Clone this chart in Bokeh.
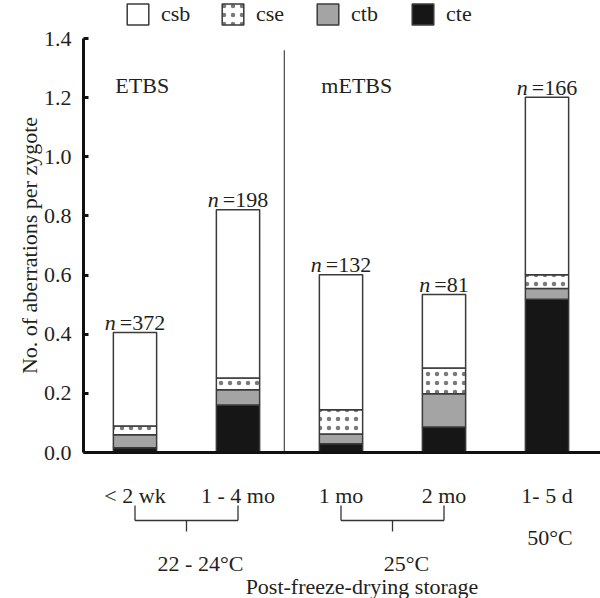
import math
from bokeh.plotting import figure
from bokeh.models import (ColumnDataSource, FixedTicker, Legend, LegendItem, Range1d,
                          PrintfTickFormatter)
from bokeh.core.properties import value
from bokeh.embed import file_html
from bokeh.resources import INLINE

# ---------------- data ----------------
categories = ["< 2 wk", "1 - 4 mo", "1 mo", "2 mo", "1- 5 d"]
n_counts = [372, 198, 132, 81, 166]
cte = [0.016, 0.161, 0.030, 0.086, 0.518]
ctb = [0.044, 0.051, 0.033, 0.113, 0.037]
cse = [0.030, 0.040, 0.082, 0.087, 0.046]
csb = [0.316, 0.569, 0.456, 0.248, 0.600]
stack_order = ["cte", "ctb", "cse", "csb"]      # bottom -> top
legend_order = ["csb", "cse", "ctb", "cte"]
y_ticks = [0.0, 0.2, 0.4, 0.6, 0.8, 1.0, 1.2, 1.4]
media_labels = ["ETBS", "mETBS"]
media_first_bar = [0, 2]
temp_labels = ["22 - 24°C", "25°C"]
temp_pairs = [(0, 1), (2, 3)]
single_temp_label = "50°C"
single_temp_bar = 4
x_title = "Post-freeze-drying storage"
y_title = "No. of aberrations per zygote"

# ---------------- style / layout ----------------
FONT = "Liberation Serif"
TXT = "#231f20"
FS = "22px"
FSN = 22
BAR_W = 0.42
EDGE = "#3a3a3a"
fills = {"cte": "#161616", "ctb": "#a4a4a4", "cse": "#ffffff", "csb": "#ffffff"}
hatches = {"cte": " ", "ctb": " ", "cse": "dot", "csb": " "}
X_LEFT, X_RIGHT = -0.3058, 5.5194
Y_BOT, Y_TOP = -0.4937, 1.5286
Y_AXIS_AT = 0.5
DIVIDER_X = 2.45
DIVIDER_TOP = 1.36
MEDIA_Y = 1.24
BR_TOP, BR_MID, BR_BOT = -0.179, -0.230, -0.267
TEMP_Y = -0.375
SINGLE_TEMP_Y = -0.287
XTITLE_Y = -0.4532
YTITLE_X = -0.0194

xs = list(range(1, len(categories) + 1))
totals = [a + b + c + d for a, b, c, d in zip(cte, ctb, cse, csb)]

src = ColumnDataSource(dict(x=xs, cte=cte, ctb=ctb, cse=cse, csb=csb))

p = figure(width=600, height=598, output_backend="svg", toolbar_location=None,
           x_range=Range1d(X_LEFT, X_RIGHT), y_range=Range1d(Y_BOT, Y_TOP),
           min_border_left=0, min_border_right=0, min_border_top=0, min_border_bottom=0)
p.outline_line_color = None
p.grid.visible = False
p.background_fill_color = "white"

rends = p.vbar_stack(stack_order, x="x", width=BAR_W, source=src,
                     fill_color=[fills[s] for s in stack_order],
                     line_color=EDGE, line_width=1.5,
                     hatch_pattern=[hatches[s] for s in stack_order],
                     hatch_color="#222222", hatch_alpha=0.6, hatch_scale=9, hatch_weight=1.0)
rmap = dict(zip(stack_order, rends))

# y axis at x = 0.5
ya = p.yaxis[0]
ya.fixed_location = Y_AXIS_AT
ya.ticker = FixedTicker(ticks=y_ticks)
ya.formatter = PrintfTickFormatter(format="%.1f")
ya.bounds = (y_ticks[0], y_ticks[-1])
ya.axis_line_width = 3
ya.axis_line_color = "#111111"
ya.major_tick_line_width = 3
ya.major_tick_line_color = "#111111"
ya.major_tick_in = 5
ya.major_tick_out = 0
ya.minor_tick_line_color = None
ya.major_label_text_font = FONT
ya.major_label_text_font_size = FS
ya.major_label_text_color = TXT
ya.major_label_standoff = 12

# x axis at y = 0
xa = p.xaxis[0]
xa.fixed_location = 0
xa.bounds = (Y_AXIS_AT, X_RIGHT)
xa.ticker = FixedTicker(ticks=xs)
xa.major_label_overrides = {x: c for x, c in zip(xs, categories)}
xa.axis_line_width = 3
xa.axis_line_color = "#111111"
xa.major_tick_line_color = None
xa.minor_tick_line_color = None
xa.major_label_text_font = FONT
xa.major_label_text_font_size = FS
xa.major_label_text_color = TXT
xa.major_label_standoff = 24

# divider between media
p.segment(x0=[DIVIDER_X], y0=[0], x1=[DIVIDER_X], y1=[DIVIDER_TOP],
          line_color="#555555", line_width=1.3)

# media labels
p.text(x=[xs[i] - BAR_W / 2 for i in media_first_bar], y=[MEDIA_Y] * len(media_labels),
       text=media_labels, x_offset=2, text_font=value(FONT), text_font_size=FS,
       text_color=TXT, text_align="left", text_baseline="alphabetic")

# n labels: italic "n" + "=NNN"
GAP = 4
def split_off(n):
    total = FSN * (0.5 + 0.564 + 0.5 * len(str(n))) + GAP
    return -total / 2 + FSN * 0.5

offs = [split_off(n) for n in n_counts]
nsrc = ColumnDataSource(dict(x=xs, y=totals, eq=["=" + str(n) for n in n_counts],
                             nn=["n"] * len(xs), off=offs, off2=[o + GAP for o in offs]))
p.text(x="x", y="y", text="nn", x_offset="off", y_offset=-10, source=nsrc,
       text_font=value(FONT), text_font_size=FS, text_font_style="italic",
       text_color=TXT, text_align="right", text_baseline="alphabetic")
p.text(x="x", y="y", text="eq", x_offset="off2", y_offset=-10, source=nsrc,
       text_font=value(FONT), text_font_size=FS, text_color=TXT,
       text_align="left", text_baseline="alphabetic")

# brackets for temperature groups
bx0, by0, bx1, by1 = [], [], [], []
for i, j in temp_pairs:
    a, b = xs[i], xs[j]
    m = (a + b) / 2
    bx0 += [a, b, a, m]
    bx1 += [a, b, b, m]
    by0 += [BR_TOP, BR_TOP, BR_MID, BR_MID]
    by1 += [BR_MID, BR_MID, BR_MID, BR_BOT]
p.segment(x0=bx0, y0=by0, x1=bx1, y1=by1, line_color="#333333", line_width=1.3)

p.text(x=[(xs[i] + xs[j]) / 2 for i, j in temp_pairs], y=[TEMP_Y] * len(temp_pairs),
       text=temp_labels, x_offset=14, text_font=value(FONT), text_font_size=FS,
       text_color=TXT, text_align="center", text_baseline="alphabetic")
p.text(x=[xs[single_temp_bar]], y=[SINGLE_TEMP_Y], text=[single_temp_label], x_offset=3,
       text_font=value(FONT), text_font_size=FS, text_color=TXT,
       text_align="center", text_baseline="alphabetic")

# axis titles
p.text(x=[(xs[0] + xs[-1]) / 2], y=[XTITLE_Y], text=[x_title], x_offset=21,
       text_font=value(FONT), text_font_size=FS, text_color=TXT,
       text_align="center", text_baseline="alphabetic")
p.text(x=[YTITLE_X], y=[(y_ticks[0] + y_ticks[-1]) / 2], text=[y_title], angle=math.pi / 2,
       text_font=value(FONT), text_font_size=FS, text_color=TXT,
       text_align="center", text_baseline="alphabetic")

legend = Legend(items=[LegendItem(label=s, renderers=[rmap[s]]) for s in legend_order],
                orientation="horizontal", location=(124, 571),
                glyph_width=27, glyph_height=26, label_standoff=10, label_width=30,
                spacing=28, padding=0, margin=0, border_line_color=None,
                background_fill_alpha=0, label_text_font=FONT, label_text_font_size=FS,
                label_text_color=TXT)
p.add_layout(legend)

open("out.html", "w").write(file_html(p, INLINE))
